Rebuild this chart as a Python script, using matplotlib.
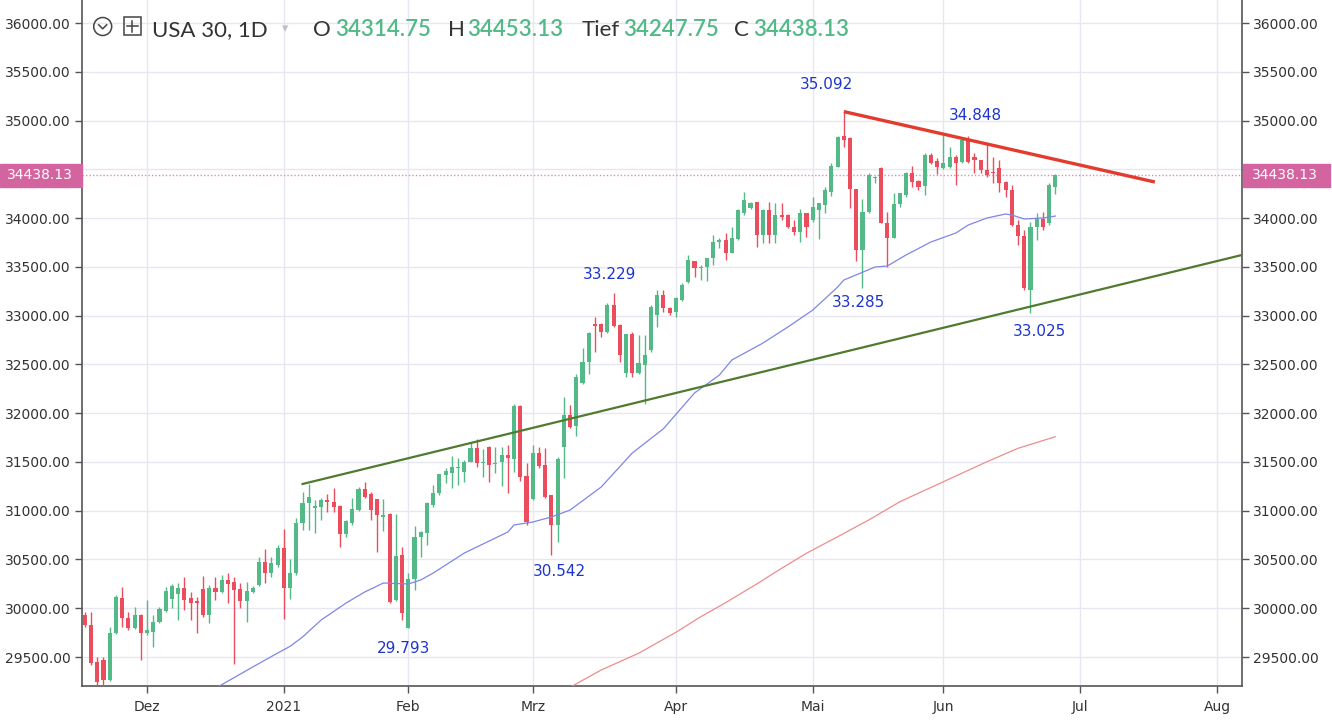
import numpy as np
import pandas as pd
import matplotlib
matplotlib.use("Agg")
import matplotlib.pyplot as plt
from matplotlib.patches import Rectangle, Ellipse
from matplotlib.lines import Line2D

# --------------------
# Data (USA 30 CFD, daily)
# --------------------
first_day = "2020-11-17"
closed_days = ["2020-12-25", "2021-01-01"]

opens = [29931, 29829, 29453, 29470, 29265, 29743, 30102, 29897, 29794, 29931,
         29743, 29760, 29863, 29976, 30100, 30150, 30211, 30102, 30075, 30194,
         29931, 30211, 30170, 30290, 30273, 30194, 30078, 30170, 30239, 30478,
         30358, 30444, 30615, 30211, 30358, 30871, 31076, 31025, 31042, 31110,
         31093, 31048, 30761, 30878, 31007, 31219, 31168, 31117, 30932, 30963,
         30085, 30546, 29794, 30300, 30727, 30775, 31060, 31178, 31366, 31390,
         31440, 31400, 31503, 31640, 31486, 31650, 31475, 31503, 31571, 31530,
         32073, 31356, 31117, 31595, 31469, 31161, 30854, 31657, 31981, 31870,
         32306, 32528, 32914, 32914, 32835, 33109, 32904, 32415, 32811, 32408,
         32494, 32647, 33006, 33211, 33081, 33040, 33160, 33348, 33560, 33485,
         33502, 33587, 33758, 33775, 33645, 33782, 34048, 34100, 34168, 33826,
         34082, 33826, 34031, 34031, 33912, 33860, 34048, 33980, 34083, 34134,
         34270, 34528, 34842, 34825, 34295, 33673, 34066, 34408, 34510, 33953,
         33800, 34145, 34237, 34459, 34384, 34329, 34647, 34589, 34510, 34528,
         34630, 34579, 34801, 34630, 34596, 34493, 34476, 34510, 34374, 34288,
         33930, 33817, 33263, 33913, 33988, 33947, 34314.75]
highs = [29965, 29965, 29504, 29504, 29812, 30136, 30222, 29965, 30017, 29941,
         30085, 29931, 30017, 30222, 30249, 30256, 30317, 30170, 30119, 30334,
         30239, 30317, 30341, 30358, 30317, 30256, 30273, 30228, 30529, 30608,
         30529, 30649, 30813, 30505, 30922, 31195, 31271, 31110, 31134, 31168,
         31230, 31055, 30900, 31127, 31247, 31298, 31189, 31120, 31117, 30973,
         30963, 30625, 30358, 30847, 30790, 31090, 31264, 31380, 31434, 31561,
         31537, 31520, 31691, 31732, 31629, 31663, 31657, 31657, 31674, 32090,
         32080, 31493, 31674, 31657, 31640, 31165, 31547, 32162, 32084, 32400,
         32664, 32835, 32989, 32921, 33126, 33229, 32910, 32815, 32830, 32801,
         32801, 33109, 33262, 33262, 33092, 33194, 33331, 33621, 33565, 33519,
         33590, 33826, 33792, 33843, 33912, 34089, 34270, 34160, 34170, 34090,
         34168, 34158, 34158, 34040, 33980, 34089, 34055, 34219, 34158, 34322,
         34562, 34842, 35092, 34830, 34300, 34193, 34466, 34432, 34521, 34066,
         34254, 34260, 34476, 34534, 34391, 34664, 34664, 34613, 34848, 34726,
         34647, 34835, 34842, 34664, 34600, 34767, 34630, 34596, 34380, 34340,
         33981, 33878, 33964, 34056, 34066, 34357, 34453.13]
lows = [29812, 29419, 29210, 29200, 29258, 29736, 29812, 29777, 29790, 29470,
        29726, 29607, 29846, 29965, 30000, 29880, 29982, 29880, 29743, 29914,
        29846, 30085, 30153, 30051, 29429, 30000, 29863, 30153, 30228, 30256,
        30324, 30427, 29887, 30092, 30341, 30802, 30802, 30768, 30905, 30990,
        30990, 30625, 30727, 30854, 31001, 31127, 30905, 30580, 30796, 30058,
        30078, 29880, 29793, 30187, 30529, 30649, 31042, 31161, 31281, 31229,
        31264, 31298, 31500, 31452, 31349, 31298, 31383, 31253, 31178, 31400,
        31308, 30854, 31110, 31434, 31127, 30542, 30683, 31332, 31845, 31766,
        32299, 32401, 32630, 32784, 32825, 32887, 32528, 32374, 32374, 32401,
        32094, 32630, 32887, 33040, 33006, 32982, 33153, 33331, 33392, 33365,
        33358, 33519, 33690, 33570, 33640, 33780, 34031, 34095, 33707, 33741,
        33741, 33741, 33980, 33895, 33826, 33758, 33809, 33963, 33782, 34048,
        34227, 34520, 34726, 34100, 33564, 33285, 34056, 34357, 33947, 33502,
        33795, 34118, 34220, 34323, 34288, 34237, 34555, 34449, 34500, 34510,
        34340, 34562, 34560, 34459, 34459, 34425, 34357, 34271, 34220, 33920,
        33725, 33263, 33025, 33776, 33878, 33930, 34247.75]
closes = [29829, 29436, 29240, 29265, 29743, 30119, 29897, 29794, 29931, 29743,
          29777, 29863, 29993, 30181, 30228, 30211, 30085, 30058, 30051, 29931,
          30211, 30170, 30290, 30249, 30187, 30078, 30177, 30211, 30478, 30358,
          30461, 30615, 30211, 30365, 30878, 31076, 31137, 31048, 31110, 31093,
          31042, 30761, 30895, 31014, 31219, 31144, 31007, 30956, 30956, 30068,
          30536, 29955, 30300, 30734, 30782, 31083, 31185, 31373, 31411, 31445,
          31448, 31503, 31640, 31486, 31500, 31469, 31486, 31571, 31537, 32073,
          31349, 30888, 31595, 31458, 31144, 30854, 31530, 31981, 31862, 32370,
          32528, 32818, 32890, 32835, 33109, 32894, 32596, 32811, 32415, 32511,
          32596, 33092, 33211, 33074, 33030, 33177, 33314, 33570, 33485, 33502,
          33587, 33758, 33775, 33645, 33792, 34082, 34185, 34151, 33826, 34082,
          33826, 34031, 34014, 33912, 33860, 34048, 33912, 34117, 34151, 34290,
          34534, 34828, 34801, 34295, 33673, 34066, 34442, 34425, 33953, 33800,
          34145, 34254, 34459, 34374, 34316, 34647, 34562, 34528, 34562, 34630,
          34562, 34801, 34579, 34596, 34493, 34442, 34459, 34357, 34288, 33930,
          33817, 33280, 33913, 33988, 33913, 34340, 34438.13]

ma50_dates = ["2020-12-16", "2020-12-24", "2020-12-31", "2021-01-05", "2021-01-07",
              "2021-01-12", "2021-01-18", "2021-01-21", "2021-01-26", "2021-02-01",
              "2021-02-03", "2021-02-05", "2021-02-12", "2021-02-23", "2021-02-24",
              "2021-03-01", "2021-03-04", "2021-03-09", "2021-03-16", "2021-03-23",
              "2021-03-30", "2021-04-06", "2021-04-12", "2021-04-14", "2021-04-21",
              "2021-04-27", "2021-05-03", "2021-05-07", "2021-05-10", "2021-05-17",
              "2021-05-19", "2021-05-24", "2021-05-28", "2021-06-03", "2021-06-07",
              "2021-06-10", "2021-06-15", "2021-06-16", "2021-06-18", "2021-06-23",
              "2021-06-25"]
ma50_values = [29180, 29398, 29541, 29610, 29705, 29880, 30054, 30167, 30259, 30249,
               30290, 30361, 30566, 30782, 30854, 30884, 30936, 31007, 31243, 31592,
               31840, 32207, 32391, 32545, 32719, 32883, 33057, 33293, 33365, 33498,
               33509, 33622, 33755, 33847, 33929, 34001, 34042, 34032, 33991, 34001,
               34021]

ma200_dates = ["2021-03-09", "2021-03-16", "2021-03-24", "2021-04-01", "2021-04-07",
               "2021-04-13", "2021-04-20", "2021-04-26", "2021-04-30", "2021-05-07",
               "2021-05-14", "2021-05-21", "2021-06-01", "2021-06-10", "2021-06-17",
               "2021-06-25"]
ma200_values = [29190, 29367, 29538, 29753, 29913, 30057, 30249, 30410, 30564, 30733,
                30905, 31092, 31297, 31502, 31640, 31759]

support_dates = ["2021-01-07", "2021-08-06"]
support_prices = [31274, 33622]
resistance_dates = ["2021-05-10", "2021-07-19"]
resistance_prices = [35092, 34370]

swing_dates = ["2021-05-10", "2021-06-01", "2021-03-18", "2021-05-13",
               "2021-03-04", "2021-02-01", "2021-06-21"]
swing_prices = [35092, 34848, 33229, 33285, 30542, 29793, 33025]
swing_texts = ["35.092", "34.848", "33.229", "33.285", "30.542", "29.793", "33.025"]

month_names = {12: "Dez", 1: "2021", 2: "Feb", 3: "Mrz", 4: "Apr",
               5: "Mai", 6: "Jun", 7: "Jul", 8: "Aug"}

symbol = "USA 30, 1D"
ohlc_names = ["O", "H", "Tief", "C"]

# --------------------
# Bar positions (weekdays, CFD closed only on Christmas / New Year)
# --------------------
days = pd.bdate_range(first_day, "2021-08-31")
days = days[~days.isin(pd.to_datetime(closed_days))]
pos = {d: i for i, d in enumerate(days)}
def bar(d):
    return pos[pd.Timestamp(d)]

n = len(opens)
x = np.arange(n)
o = np.array(opens, float); h = np.array(highs, float)
l = np.array(lows, float); c = np.array(closes, float)

W, H = 1332, 720
fig = plt.figure(figsize=(W / 100, H / 100), dpi=100)
ax = fig.add_axes([82 / W, 34 / H, (1242 - 82) / W, (720 - 34) / H])

GREEN = "#53b987"
RED = "#eb4d5c"
up = c >= o
cols = np.where(up, GREEN, RED)

ax.vlines(x, l, h, colors=cols, linewidth=1.0, zorder=3)
body_lo = np.minimum(o, c)
body_h = np.maximum(np.abs(c - o), 12)
ax.bar(x, body_h, bottom=body_lo, width=0.66, color=cols, linewidth=0, zorder=3)

# moving averages
ax.plot([bar(d) for d in ma50_dates], ma50_values, color="#7f86e6", lw=0.9, zorder=4)
ax.plot([bar(d) for d in ma200_dates], ma200_values, color="#ef8c8c", lw=0.9, zorder=4)

# trend lines
ax.plot([bar(d) for d in support_dates], support_prices, color="#507a30", lw=1.6, zorder=5)
ax.plot([bar(d) for d in resistance_dates], resistance_prices, color="#e33b2e",
        lw=2.4, zorder=5, solid_capstyle="butt")

# last price line
last = closes[-1]
TAG = "#d3649f"
ax.axhline(last, color="#e08ab8", lw=1.0, ls=(0, (1, 1.5)), zorder=2)

# swing labels
offsets = [(-17, 27), (32, 20), (-4, 19), (-4, -15), (8, -16), (-5, -20), (9, -18)]
for d, p, t, off in zip(swing_dates, swing_prices, swing_texts, offsets):
    ax.annotate(t, (bar(d), p), xytext=off, textcoords="offset pixels",
                ha="center", va="center", fontsize=11, color="#1d35cf", zorder=6)

# axes
ax.set_xlim(-0.45, 186.0)
ax.set_ylim(29203, 36236)
yt = np.arange(29500, 36001, 500)
ax.set_yticks(yt)
# the 34500 label sits under the last-price tag
ax.set_yticklabels(["" if abs(v - last) < 250 else f"{v:.2f}" for v in yt])

month_ticks, month_labels = [], []
for i, d in enumerate(days):
    if i > 0 and d.month in month_names and days[i - 1].month != d.month:
        month_ticks.append(i)
        month_labels.append(month_names[d.month])
ax.set_xticks(month_ticks)
ax.set_xticklabels(month_labels)

ax.grid(True, color="#e7e7f1", lw=1.0, zorder=0)
ax.set_axisbelow(True)
ax.tick_params(axis="y", left=True, right=True, labelleft=True, labelright=True,
               length=5, width=1, color="#555555", labelsize=10, labelcolor="#333333", pad=3)
ax.tick_params(axis="x", length=5, width=1, color="#555555", labelsize=10,
               labelcolor="#333333", pad=5)
for s in ["left", "right", "bottom"]:
    ax.spines[s].set_color("#555555")
    ax.spines[s].set_linewidth(1.2)
ax.spines["top"].set_visible(False)

# price tags on both axes
_, y_last = ax.transData.transform((0, last))
for x0, x1, tx, ha in [(0, 82, 73, "right"), (1243, 1330, 1252, "left")]:
    fig.patches.append(Rectangle((x0 / W, (y_last - 11.5) / H), (x1 - x0) / W, 23 / H,
                                 transform=fig.transFigure, color=TAG, zorder=10))
    fig.text(tx / W, y_last / H, f"{last:.2f}", color="white", fontsize=10,
             ha=ha, va="center", zorder=11)

# header
def fy(ypx):
    return 1 - ypx / H

base = fy(36)
fig.text(152 / W, base, symbol, fontsize=16, family="Lato", color="#333333", va="baseline")
fig.text(285 / W, fy(29), "\u25be", fontsize=9, color="#c0c0c0", va="center", ha="center")
vals = [opens[-1], highs[-1], lows[-1], closes[-1]]
name_x = [313, 448, 582, 734]
val_x = [335, 467, 623, 753]
for nm, v, nx, vx in zip(ohlc_names, vals, name_x, val_x):
    fig.text(nx / W, base, nm, fontsize=16, family="Lato", color="#333333", va="baseline")
    fig.text(vx / W, base, f"{v:.2f}", fontsize=16, family="Lato", weight="semibold",
             color=GREEN, va="baseline")

# icons
fig.patches.append(Ellipse((102.7 / W, fy(26.5)), 18 / W, 18 / H, transform=fig.transFigure,
                           fill=False, ec="#444444", lw=1.1))
fig.lines.append(Line2D([98.7 / W, 102.7 / W, 106.7 / W], [fy(24.8), fy(28.8), fy(24.8)],
                        transform=fig.transFigure, color="#444444", lw=1.1))
fig.patches.append(Rectangle((123.5 / W, fy(35)), 17.5 / W, 17.5 / H, transform=fig.transFigure,
                             fill=False, ec="#444444", lw=1.1))
fig.lines.append(Line2D([126.5 / W, 138 / W], [fy(26.2), fy(26.2)], transform=fig.transFigure,
                        color="#444444", lw=1.1))
fig.lines.append(Line2D([132.2 / W, 132.2 / W], [fy(20.5), fy(32)], transform=fig.transFigure,
                        color="#444444", lw=1.1))

fig.savefig("out.png", dpi=100, facecolor="white")
